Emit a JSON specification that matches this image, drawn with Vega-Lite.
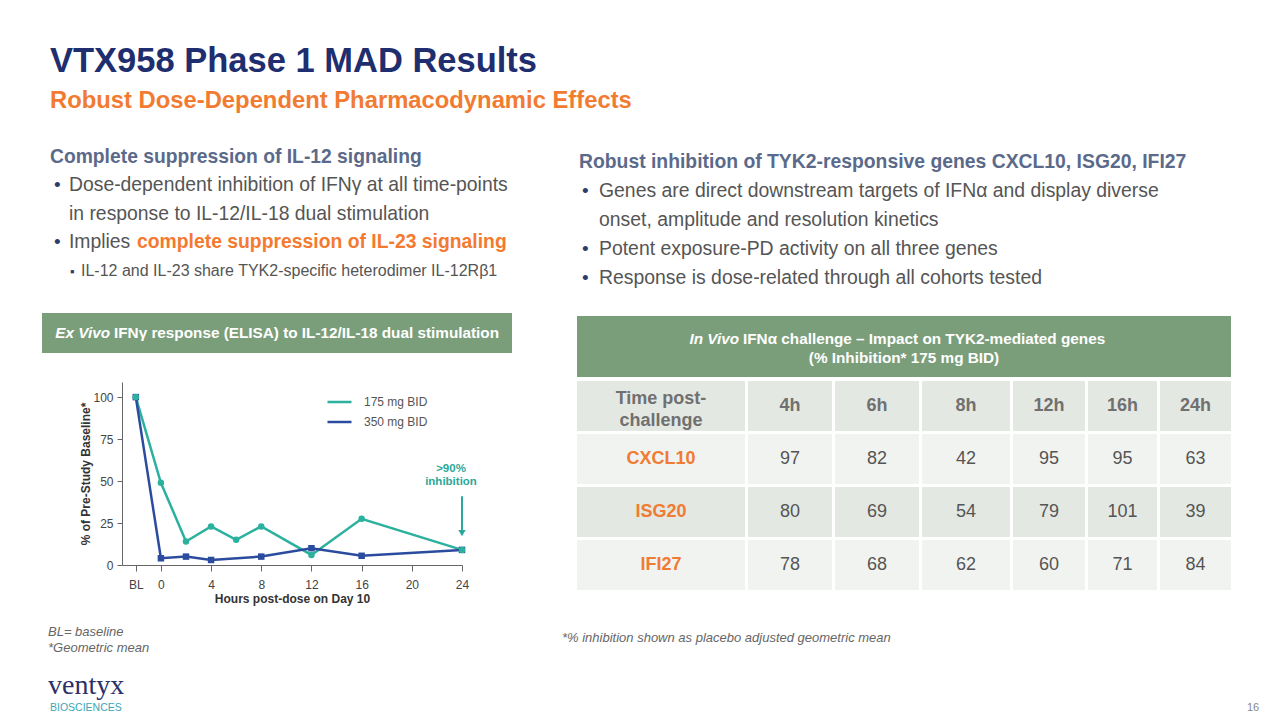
{
  "$schema": "https://vega.github.io/schema/vega-lite/v6.json",
  "padding": 0,
  "background": "#ffffff",
  "spacing": 0,
  "resolve": {"scale": {"color": "independent"}, "legend": {"color": "independent"}},
  "config": {"view": {"stroke": null}, "font": "Liberation Sans"},
  "datasets": {
    "headline": [
      {"line": 1, "role": "title", "text": "VTX958 Phase 1 MAD Results"},
      {"line": 2, "role": "subtitle", "text": "Robust Dose-Dependent Pharmacodynamic Effects"}
    ],
    "leftNotes": [
      {"line": 1, "role": "heading", "text": "Complete suppression of IL-12 signaling"},
      {"line": 2, "role": "bullet", "text": "Dose-dependent inhibition of IFNγ at all time-points"},
      {"line": 3, "role": "continued", "text": "in response to IL-12/IL-18 dual stimulation"},
      {"line": 4, "role": "bullet", "text": "Implies"},
      {"line": 4, "role": "emphasis", "text": "complete suppression of IL-23 signaling"},
      {"line": 5, "role": "subbullet", "text": "IL-12 and IL-23 share TYK2-specific heterodimer IL-12Rβ1"}
    ],
    "rightNotes": [
      {"line": 1, "role": "heading", "text": "Robust inhibition of TYK2-responsive genes CXCL10, ISG20, IFI27"},
      {"line": 2, "role": "bullet", "text": "Genes are direct downstream targets of IFNα and display diverse"},
      {"line": 3, "role": "continued", "text": "onset, amplitude and resolution kinetics"},
      {"line": 4, "role": "bullet", "text": "Potent exposure-PD activity on all three genes"},
      {"line": 5, "role": "bullet", "text": "Response is dose-related through all cohorts tested"}
    ],
    "exVivoBanner": [
      {"role": "lead", "text": "Ex Vivo"},
      {"role": "rest", "text": "IFNγ response (ELISA) to IL-12/IL-18 dual stimulation"}
    ],
    "inVivoBanner": [
      {"role": "lead", "text": "In Vivo"},
      {"role": "rest", "text": "IFNα challenge – Impact on TYK2-mediated genes"},
      {"role": "second", "text": "(% Inhibition* 175 mg BID)"}
    ],
    "pd": [
      {"dose": "175 mg BID", "hours": -2, "pct": 100},
      {"dose": "175 mg BID", "hours": 0, "pct": 49},
      {"dose": "175 mg BID", "hours": 2, "pct": 14},
      {"dose": "175 mg BID", "hours": 4, "pct": 23},
      {"dose": "175 mg BID", "hours": 6, "pct": 15},
      {"dose": "175 mg BID", "hours": 8, "pct": 23},
      {"dose": "175 mg BID", "hours": 12, "pct": 6},
      {"dose": "175 mg BID", "hours": 16, "pct": 27.5},
      {"dose": "175 mg BID", "hours": 24, "pct": 9},
      {"dose": "350 mg BID", "hours": -2, "pct": 100},
      {"dose": "350 mg BID", "hours": 0, "pct": 4},
      {"dose": "350 mg BID", "hours": 2, "pct": 5},
      {"dose": "350 mg BID", "hours": 4, "pct": 3},
      {"dose": "350 mg BID", "hours": 8, "pct": 5},
      {"dose": "350 mg BID", "hours": 12, "pct": 10},
      {"dose": "350 mg BID", "hours": 16, "pct": 5.5},
      {"dose": "350 mg BID", "hours": 24, "pct": 9}
    ],
    "callout": [
      {"hours": 24, "note": ">90% inhibition", "notePct": 57, "from": 41, "to": 19}
    ],
    "genes": [
      {"gene": "CXCL10", "time": "4h", "pct": 97},
      {"gene": "CXCL10", "time": "6h", "pct": 82},
      {"gene": "CXCL10", "time": "8h", "pct": 42},
      {"gene": "CXCL10", "time": "12h", "pct": 95},
      {"gene": "CXCL10", "time": "16h", "pct": 95},
      {"gene": "CXCL10", "time": "24h", "pct": 63},
      {"gene": "ISG20", "time": "4h", "pct": 80},
      {"gene": "ISG20", "time": "6h", "pct": 69},
      {"gene": "ISG20", "time": "8h", "pct": 54},
      {"gene": "ISG20", "time": "12h", "pct": 79},
      {"gene": "ISG20", "time": "16h", "pct": 101},
      {"gene": "ISG20", "time": "24h", "pct": 39},
      {"gene": "IFI27", "time": "4h", "pct": 78},
      {"gene": "IFI27", "time": "6h", "pct": 68},
      {"gene": "IFI27", "time": "8h", "pct": 62},
      {"gene": "IFI27", "time": "12h", "pct": 60},
      {"gene": "IFI27", "time": "16h", "pct": 71},
      {"gene": "IFI27", "time": "24h", "pct": 84}
    ],
    "footer": [
      {"role": "noteBL", "text": "BL= baseline"},
      {"role": "noteGeo", "text": "*Geometric mean"},
      {"role": "noteTable", "text": "*% inhibition shown as placebo adjusted geometric mean"},
      {"role": "brand", "text": "ventyx"},
      {"role": "division", "text": "BIOSCIENCES"},
      {"role": "page", "text": "16"}
    ]
  },
  "vconcat": [
    {
      "width": 1280, "height": 130,
      "data": {"name": "headline"},
      "encoding": {
        "x": {"value": 0},
        "y": {"field": "line", "type": "ordinal", "scale": {"type": "point", "range": [72, 108], "padding": 0}, "axis": null},
        "text": {"field": "text", "type": "nominal"}
      },
      "layer": [
        {"transform": [{"filter": "datum.role === 'title'"}],
         "mark": {"type": "text", "align": "left", "baseline": "alphabetic", "dx": 50, "fontSize": 34.5, "fontWeight": "bold", "color": "#1f2e6e"}},
        {"transform": [{"filter": "datum.role === 'subtitle'"}],
         "mark": {"type": "text", "align": "left", "baseline": "alphabetic", "dx": 50, "fontSize": 23.8, "fontWeight": "bold", "color": "#f27b32"}}
      ]
    },
    {
      "spacing": 0,
      "resolve": {"scale": {"color": "independent"}, "legend": {"color": "independent"}},
      "hconcat": [
        {"width": 42, "height": 10, "data": {"values": []}, "mark": "point"},
        {
          "spacing": 0,
          "resolve": {"scale": {"color": "independent"}, "legend": {"color": "independent"}},
          "vconcat": [
            {
              "width": 470, "height": 183,
              "data": {"name": "leftNotes"},
              "encoding": {
                "x": {"value": 0},
                "y": {"field": "line", "type": "ordinal", "scale": {"type": "point", "range": [33, 146], "padding": 0}, "axis": null}
              },
              "layer": [
                {"transform": [{"filter": "datum.role === 'heading'"}],
                 "mark": {"type": "text", "align": "left", "baseline": "alphabetic", "dx": 8, "fontSize": 19.3, "fontWeight": "bold", "color": "#5b6a8a"},
                 "encoding": {"text": {"field": "text", "type": "nominal"}}},
                {"transform": [{"filter": "datum.role === 'bullet'"}],
                 "mark": {"type": "text", "text": "•", "align": "left", "baseline": "alphabetic", "dx": 12, "fontSize": 19, "color": "#2d3b70"}},
                {"transform": [{"filter": "datum.role === 'bullet' || datum.role === 'continued'"}],
                 "mark": {"type": "text", "align": "left", "baseline": "alphabetic", "dx": 27, "fontSize": 19.35, "color": "#555555"},
                 "encoding": {"text": {"field": "text", "type": "nominal"}}},
                {"transform": [{"filter": "datum.role === 'emphasis'"}],
                 "mark": {"type": "text", "align": "left", "baseline": "alphabetic", "dx": 95, "fontSize": 19.35, "fontWeight": "bold", "color": "#f47a30"},
                 "encoding": {"text": {"field": "text", "type": "nominal"}}},
                {"transform": [{"filter": "datum.role === 'subbullet'"}],
                 "mark": {"type": "text", "text": "▪", "align": "left", "baseline": "alphabetic", "dx": 28, "fontSize": 13, "color": "#2d3b70"}},
                {"transform": [{"filter": "datum.role === 'subbullet'"}],
                 "mark": {"type": "text", "align": "left", "baseline": "alphabetic", "dx": 39, "fontSize": 16, "color": "#555555"},
                 "encoding": {"text": {"field": "text", "type": "nominal"}}}
              ]
            },
            {
              "width": 470, "height": 40,
              "data": {"name": "exVivoBanner"},
              "layer": [
                {"transform": [{"filter": "datum.role === 'lead'"}],
                 "mark": {"type": "rect", "color": "#7b9e7a"}},
                {"transform": [{"filter": "datum.role === 'lead'"}],
                 "mark": {"type": "text", "align": "right", "baseline": "middle", "dx": -167, "fontSize": 15.3, "fontWeight": "bold", "fontStyle": "italic", "color": "#ffffff"},
                 "encoding": {"text": {"field": "text", "type": "nominal"}}},
                {"transform": [{"filter": "datum.role === 'rest'"}],
                 "mark": {"type": "text", "align": "left", "baseline": "middle", "dx": -163, "fontSize": 15.3, "fontWeight": "bold", "color": "#ffffff"},
                 "encoding": {"text": {"field": "text", "type": "nominal"}}}
              ]
            },
            {"width": 470, "height": 29, "data": {"values": []}, "mark": "point"},
            {
              "spacing": 0,
              "resolve": {"scale": {"color": "independent"}, "legend": {"color": "independent"}},
              "hconcat": [
                {"width": 37, "height": 10, "data": {"values": []}, "mark": "point"},
                {
                  "width": 340, "height": 183,
                  "data": {"name": "pd"},
                  "layer": [
                    {
                      "mark": {"type": "line", "strokeWidth": 2.5},
                      "encoding": {
                        "x": {"field": "hours", "type": "quantitative",
                              "scale": {"domain": [-3.1, 24], "nice": false, "zero": false},
                              "axis": {"title": "Hours post-dose on Day 10", "values": [-2, 0, 4, 8, 12, 16, 20, 24],
                                       "labelExpr": "datum.value < 0 ? 'BL' : datum.label", "grid": false,
                                       "domainColor": "#666666", "tickColor": "#666666", "tickSize": 6,
                                       "labelColor": "#444444", "labelFontSize": 12, "labelPadding": 8, "labelFlush": false,
                                       "titleFontSize": 12, "titleFontWeight": "bold", "titleColor": "#333333", "titlePadding": 3}},
                        "y": {"field": "pct", "type": "quantitative",
                              "scale": {"domain": [0, 109], "nice": false},
                              "axis": {"title": "% of Pre-Study Baseline*", "values": [0, 25, 50, 75, 100], "grid": false,
                                       "domainColor": "#666666", "tickColor": "#666666", "tickSize": 5,
                                       "labelColor": "#444444", "labelFontSize": 12, "labelPadding": 4,
                                       "titleFontSize": 12, "titleFontWeight": "bold", "titleColor": "#333333", "titlePadding": 0}},
                        "color": {"field": "dose", "type": "nominal",
                                  "scale": {"domain": ["175 mg BID", "350 mg BID"], "range": ["#2bb19e", "#2b4b9e"]},
                                  "legend": {"title": null, "orient": "none", "legendX": 204, "legendY": 10,
                                             "symbolType": "stroke", "symbolSize": 576, "symbolStrokeWidth": 2.5,
                                             "labelFontSize": 12, "labelColor": "#555555", "labelOffset": 11,
                                             "clipHeight": 20, "rowPadding": 0, "padding": 0}}
                      }
                    },
                    {
                      "transform": [{"filter": "datum.dose === '350 mg BID'"}],
                      "mark": {"type": "square", "size": 42, "opacity": 1, "color": "#2b4b9e"},
                      "encoding": {"x": {"field": "hours", "type": "quantitative"}, "y": {"field": "pct", "type": "quantitative"}}
                    },
                    {
                      "transform": [{"filter": "datum.dose === '175 mg BID'"}],
                      "mark": {"type": "circle", "size": 42, "opacity": 1, "color": "#2bb19e"},
                      "encoding": {"x": {"field": "hours", "type": "quantitative"}, "y": {"field": "pct", "type": "quantitative"}}
                    },
                    {
                      "data": {"name": "callout"},
                      "mark": {"type": "rule", "color": "#2aa99a", "strokeWidth": 2},
                      "encoding": {"x": {"field": "hours", "type": "quantitative"}, "y": {"field": "from", "type": "quantitative"}, "y2": {"field": "to"}}
                    },
                    {
                      "data": {"name": "callout"},
                      "mark": {"type": "point", "shape": "triangle-down", "filled": true, "size": 55, "opacity": 1, "color": "#2aa99a"},
                      "encoding": {"x": {"field": "hours", "type": "quantitative"}, "y": {"field": "to", "type": "quantitative"}}
                    },
                    {
                      "data": {"name": "callout"},
                      "mark": {"type": "text", "align": "center", "baseline": "middle", "dx": -11, "fontSize": 11.5, "fontWeight": "bold", "color": "#2aa99a", "lineBreak": " ", "lineHeight": 13},
                      "encoding": {"x": {"field": "hours", "type": "quantitative"}, "y": {"field": "notePct", "type": "quantitative"}, "text": {"field": "note", "type": "nominal"}}
                    }
                  ]
                }
              ]
            }
          ]
        },
        {"width": 65, "height": 10, "data": {"values": []}, "mark": "point"},
        {
          "spacing": 0,
          "vconcat": [
            {
              "width": 654, "height": 186,
              "data": {"name": "rightNotes"},
              "encoding": {
                "x": {"value": 0},
                "y": {"field": "line", "type": "ordinal", "scale": {"type": "point", "range": [38, 154], "padding": 0}, "axis": null}
              },
              "layer": [
                {"transform": [{"filter": "datum.role === 'heading'"}],
                 "mark": {"type": "text", "align": "left", "baseline": "alphabetic", "dx": 2, "fontSize": 19.35, "fontWeight": "bold", "color": "#5b6a8a"},
                 "encoding": {"text": {"field": "text", "type": "nominal"}}},
                {"transform": [{"filter": "datum.role === 'bullet'"}],
                 "mark": {"type": "text", "text": "•", "align": "left", "baseline": "alphabetic", "dx": 5, "fontSize": 19, "color": "#2d3b70"}},
                {"transform": [{"filter": "datum.role === 'bullet' || datum.role === 'continued'"}],
                 "mark": {"type": "text", "align": "left", "baseline": "alphabetic", "dx": 22, "fontSize": 19.4, "color": "#555555"},
                 "encoding": {"text": {"field": "text", "type": "nominal"}}}
              ]
            },
            {
              "width": 654, "height": 61,
              "data": {"name": "inVivoBanner"},
              "layer": [
                {"transform": [{"filter": "datum.role === 'lead'"}],
                 "mark": {"type": "rect", "color": "#7b9e7a"}},
                {"transform": [{"filter": "datum.role === 'lead'"}],
                 "mark": {"type": "text", "align": "right", "baseline": "middle", "dx": -165, "dy": -7.5, "fontSize": 15.3, "fontWeight": "bold", "fontStyle": "italic", "color": "#ffffff"},
                 "encoding": {"text": {"field": "text", "type": "nominal"}}},
                {"transform": [{"filter": "datum.role === 'rest'"}],
                 "mark": {"type": "text", "align": "left", "baseline": "middle", "dx": -161, "dy": -7.5, "fontSize": 15.3, "fontWeight": "bold", "color": "#ffffff"},
                 "encoding": {"text": {"field": "text", "type": "nominal"}}},
                {"transform": [{"filter": "datum.role === 'second'"}],
                 "mark": {"type": "text", "align": "center", "baseline": "middle", "dy": 11.5, "fontSize": 15.3, "fontWeight": "bold", "color": "#ffffff"},
                 "encoding": {"text": {"field": "text", "type": "nominal"}}}
              ]
            },
            {"width": 654, "height": 4, "data": {"values": []}, "mark": "point"},
            {
              "spacing": 3,
              "hconcat": [
                {
                  "width": 168, "height": 209,
                  "data": {"name": "genes"},
                  "transform": [{"filter": "datum.time === '4h'"}],
                  "encoding": {"y": {"field": "gene", "type": "nominal", "scale": {"domain": ["Time post-challenge", "CXCL10", "ISG20", "IFI27"], "paddingInner": 0.0566, "paddingOuter": 0}, "axis": null}},
                  "layer": [
                    {"mark": {"type": "rect"}, "encoding": {"fill": {"field": "gene", "type": "nominal", "scale": {"domain": ["CXCL10", "ISG20", "IFI27"], "range": ["#f1f3f0", "#e4e8e3", "#f1f3f0"]}, "legend": null}}},
                    {"mark": {"type": "text", "fontSize": 18, "fontWeight": "bold", "color": "#f07b32"}, "encoding": {"text": {"field": "gene", "type": "nominal"}}},
                    {"transform": [{"aggregate": [{"op": "count", "as": "n"}], "groupby": ["time"]}],
                     "mark": {"type": "rect", "color": "#e4e8e3"}, "encoding": {"y": {"datum": "Time post-challenge"}}},
                    {"transform": [{"aggregate": [{"op": "count", "as": "n"}], "groupby": ["time"]}],
                     "mark": {"type": "text", "text": ["Time post-", "challenge"], "lineHeight": 22, "baseline": "middle", "dy": -7.5, "fontSize": 18, "fontWeight": "bold", "color": "#707070"},
                     "encoding": {"y": {"datum": "Time post-challenge"}}}
                  ]
                },
                {
                  "width": 84, "height": 209,
                  "data": {"name": "genes"},
                  "transform": [{"filter": "datum.time === '4h'"}],
                  "encoding": {"y": {"field": "gene", "type": "nominal", "scale": {"domain": ["Time post-challenge", "CXCL10", "ISG20", "IFI27"], "paddingInner": 0.0566, "paddingOuter": 0}, "axis": null}},
                  "layer": [
                    {"mark": {"type": "rect"}, "encoding": {"fill": {"field": "gene", "type": "nominal", "scale": {"domain": ["CXCL10", "ISG20", "IFI27"], "range": ["#f1f3f0", "#e4e8e3", "#f1f3f0"]}, "legend": null}}},
                    {"mark": {"type": "text", "fontSize": 18, "color": "#555555"}, "encoding": {"text": {"field": "pct", "type": "quantitative"}}},
                    {"transform": [{"aggregate": [{"op": "count", "as": "n"}], "groupby": ["time"]}],
                     "mark": {"type": "rect", "color": "#e4e8e3"}, "encoding": {"y": {"datum": "Time post-challenge"}}},
                    {"transform": [{"aggregate": [{"op": "count", "as": "n"}], "groupby": ["time"]}],
                     "mark": {"type": "text", "fontSize": 18, "fontWeight": "bold", "color": "#707070"},
                     "encoding": {"y": {"datum": "Time post-challenge"}, "text": {"field": "time", "type": "nominal"}}}
                  ]
                },
                {
                  "width": 84, "height": 209,
                  "data": {"name": "genes"},
                  "transform": [{"filter": "datum.time === '6h'"}],
                  "encoding": {"y": {"field": "gene", "type": "nominal", "scale": {"domain": ["Time post-challenge", "CXCL10", "ISG20", "IFI27"], "paddingInner": 0.0566, "paddingOuter": 0}, "axis": null}},
                  "layer": [
                    {"mark": {"type": "rect"}, "encoding": {"fill": {"field": "gene", "type": "nominal", "scale": {"domain": ["CXCL10", "ISG20", "IFI27"], "range": ["#f1f3f0", "#e4e8e3", "#f1f3f0"]}, "legend": null}}},
                    {"mark": {"type": "text", "fontSize": 18, "color": "#555555"}, "encoding": {"text": {"field": "pct", "type": "quantitative"}}},
                    {"transform": [{"aggregate": [{"op": "count", "as": "n"}], "groupby": ["time"]}],
                     "mark": {"type": "rect", "color": "#e4e8e3"}, "encoding": {"y": {"datum": "Time post-challenge"}}},
                    {"transform": [{"aggregate": [{"op": "count", "as": "n"}], "groupby": ["time"]}],
                     "mark": {"type": "text", "fontSize": 18, "fontWeight": "bold", "color": "#707070"},
                     "encoding": {"y": {"datum": "Time post-challenge"}, "text": {"field": "time", "type": "nominal"}}}
                  ]
                },
                {
                  "width": 88, "height": 209,
                  "data": {"name": "genes"},
                  "transform": [{"filter": "datum.time === '8h'"}],
                  "encoding": {"y": {"field": "gene", "type": "nominal", "scale": {"domain": ["Time post-challenge", "CXCL10", "ISG20", "IFI27"], "paddingInner": 0.0566, "paddingOuter": 0}, "axis": null}},
                  "layer": [
                    {"mark": {"type": "rect"}, "encoding": {"fill": {"field": "gene", "type": "nominal", "scale": {"domain": ["CXCL10", "ISG20", "IFI27"], "range": ["#f1f3f0", "#e4e8e3", "#f1f3f0"]}, "legend": null}}},
                    {"mark": {"type": "text", "fontSize": 18, "color": "#555555"}, "encoding": {"text": {"field": "pct", "type": "quantitative"}}},
                    {"transform": [{"aggregate": [{"op": "count", "as": "n"}], "groupby": ["time"]}],
                     "mark": {"type": "rect", "color": "#e4e8e3"}, "encoding": {"y": {"datum": "Time post-challenge"}}},
                    {"transform": [{"aggregate": [{"op": "count", "as": "n"}], "groupby": ["time"]}],
                     "mark": {"type": "text", "fontSize": 18, "fontWeight": "bold", "color": "#707070"},
                     "encoding": {"y": {"datum": "Time post-challenge"}, "text": {"field": "time", "type": "nominal"}}}
                  ]
                },
                {
                  "width": 72, "height": 209,
                  "data": {"name": "genes"},
                  "transform": [{"filter": "datum.time === '12h'"}],
                  "encoding": {"y": {"field": "gene", "type": "nominal", "scale": {"domain": ["Time post-challenge", "CXCL10", "ISG20", "IFI27"], "paddingInner": 0.0566, "paddingOuter": 0}, "axis": null}},
                  "layer": [
                    {"mark": {"type": "rect"}, "encoding": {"fill": {"field": "gene", "type": "nominal", "scale": {"domain": ["CXCL10", "ISG20", "IFI27"], "range": ["#f1f3f0", "#e4e8e3", "#f1f3f0"]}, "legend": null}}},
                    {"mark": {"type": "text", "fontSize": 18, "color": "#555555"}, "encoding": {"text": {"field": "pct", "type": "quantitative"}}},
                    {"transform": [{"aggregate": [{"op": "count", "as": "n"}], "groupby": ["time"]}],
                     "mark": {"type": "rect", "color": "#e4e8e3"}, "encoding": {"y": {"datum": "Time post-challenge"}}},
                    {"transform": [{"aggregate": [{"op": "count", "as": "n"}], "groupby": ["time"]}],
                     "mark": {"type": "text", "fontSize": 18, "fontWeight": "bold", "color": "#707070"},
                     "encoding": {"y": {"datum": "Time post-challenge"}, "text": {"field": "time", "type": "nominal"}}}
                  ]
                },
                {
                  "width": 69, "height": 209,
                  "data": {"name": "genes"},
                  "transform": [{"filter": "datum.time === '16h'"}],
                  "encoding": {"y": {"field": "gene", "type": "nominal", "scale": {"domain": ["Time post-challenge", "CXCL10", "ISG20", "IFI27"], "paddingInner": 0.0566, "paddingOuter": 0}, "axis": null}},
                  "layer": [
                    {"mark": {"type": "rect"}, "encoding": {"fill": {"field": "gene", "type": "nominal", "scale": {"domain": ["CXCL10", "ISG20", "IFI27"], "range": ["#f1f3f0", "#e4e8e3", "#f1f3f0"]}, "legend": null}}},
                    {"mark": {"type": "text", "fontSize": 18, "color": "#555555"}, "encoding": {"text": {"field": "pct", "type": "quantitative"}}},
                    {"transform": [{"aggregate": [{"op": "count", "as": "n"}], "groupby": ["time"]}],
                     "mark": {"type": "rect", "color": "#e4e8e3"}, "encoding": {"y": {"datum": "Time post-challenge"}}},
                    {"transform": [{"aggregate": [{"op": "count", "as": "n"}], "groupby": ["time"]}],
                     "mark": {"type": "text", "fontSize": 18, "fontWeight": "bold", "color": "#707070"},
                     "encoding": {"y": {"datum": "Time post-challenge"}, "text": {"field": "time", "type": "nominal"}}}
                  ]
                },
                {
                  "width": 71, "height": 209,
                  "data": {"name": "genes"},
                  "transform": [{"filter": "datum.time === '24h'"}],
                  "encoding": {"y": {"field": "gene", "type": "nominal", "scale": {"domain": ["Time post-challenge", "CXCL10", "ISG20", "IFI27"], "paddingInner": 0.0566, "paddingOuter": 0}, "axis": null}},
                  "layer": [
                    {"mark": {"type": "rect"}, "encoding": {"fill": {"field": "gene", "type": "nominal", "scale": {"domain": ["CXCL10", "ISG20", "IFI27"], "range": ["#f1f3f0", "#e4e8e3", "#f1f3f0"]}, "legend": null}}},
                    {"mark": {"type": "text", "fontSize": 18, "color": "#555555"}, "encoding": {"text": {"field": "pct", "type": "quantitative"}}},
                    {"transform": [{"aggregate": [{"op": "count", "as": "n"}], "groupby": ["time"]}],
                     "mark": {"type": "rect", "color": "#e4e8e3"}, "encoding": {"y": {"datum": "Time post-challenge"}}},
                    {"transform": [{"aggregate": [{"op": "count", "as": "n"}], "groupby": ["time"]}],
                     "mark": {"type": "text", "fontSize": 18, "fontWeight": "bold", "color": "#707070"},
                     "encoding": {"y": {"datum": "Time post-challenge"}, "text": {"field": "time", "type": "nominal"}}}
                  ]
                }
              ]
            },
            {"width": 654, "height": 25, "data": {"values": []}, "mark": "point"}
          ]
        }
      ]
    },
    {
      "width": 1280, "height": 104,
      "data": {"name": "footer"},
      "encoding": {"x": {"value": 0}, "text": {"field": "text", "type": "nominal"}},
      "layer": [
        {"transform": [{"filter": "datum.role === 'noteBL'"}],
         "mark": {"type": "text", "align": "left", "baseline": "alphabetic", "dx": 48, "dy": -31, "fontSize": 13, "fontStyle": "italic", "color": "#666666"}},
        {"transform": [{"filter": "datum.role === 'noteGeo'"}],
         "mark": {"type": "text", "align": "left", "baseline": "alphabetic", "dx": 48, "dy": -15.5, "fontSize": 13, "fontStyle": "italic", "color": "#666666"}},
        {"transform": [{"filter": "datum.role === 'noteTable'"}],
         "mark": {"type": "text", "align": "left", "baseline": "middle", "dx": 562, "dy": -29, "fontSize": 13, "fontStyle": "italic", "color": "#666666"}},
        {"transform": [{"filter": "datum.role === 'brand'"}],
         "mark": {"type": "text", "align": "left", "baseline": "alphabetic", "dx": 48, "dy": 27, "font": "Liberation Serif", "fontSize": 28, "color": "#2b2f6b"}},
        {"transform": [{"filter": "datum.role === 'division'"}],
         "mark": {"type": "text", "align": "left", "baseline": "middle", "dx": 50, "dy": 41, "fontSize": 10.5, "color": "#3aa6b5"}},
        {"transform": [{"filter": "datum.role === 'page'"}],
         "mark": {"type": "text", "align": "left", "baseline": "middle", "dx": 1247, "dy": 41, "fontSize": 11, "color": "#888888"}}
      ]
    }
  ]
}
